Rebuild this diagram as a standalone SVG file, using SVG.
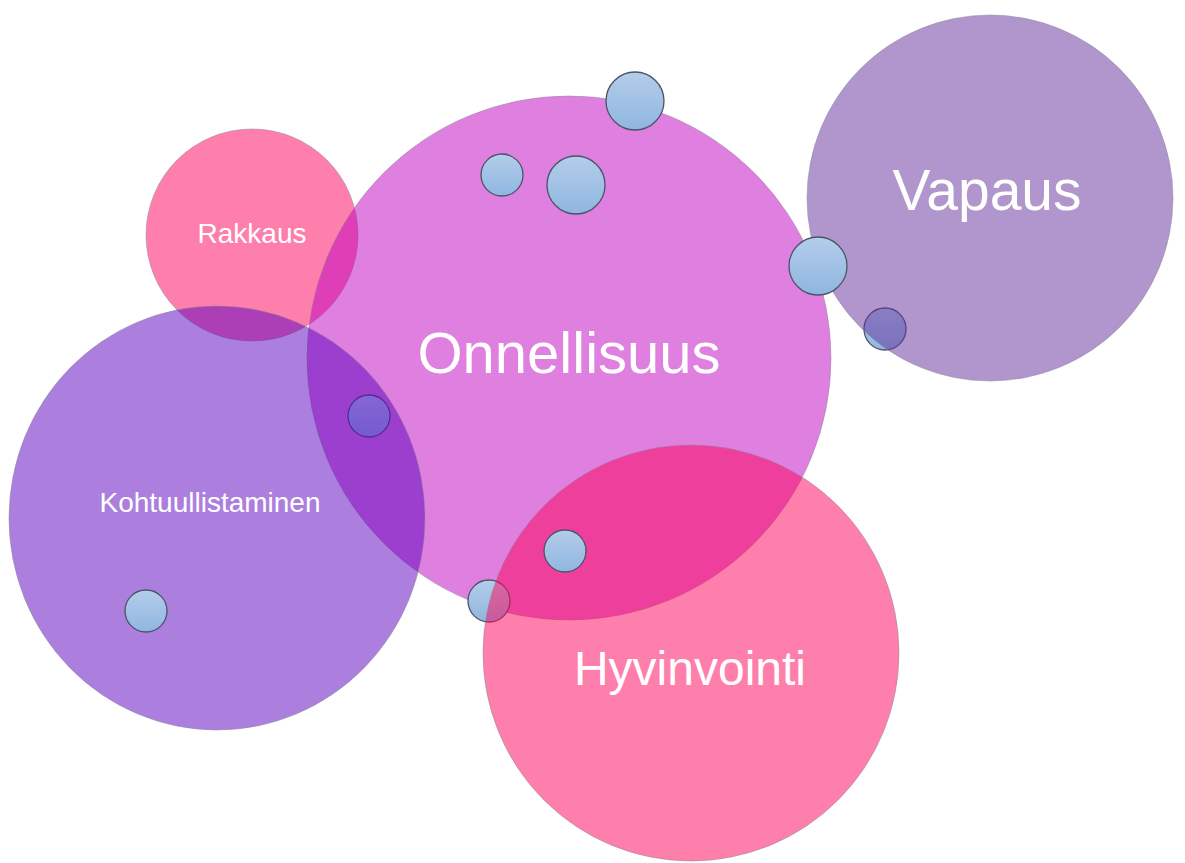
<svg xmlns="http://www.w3.org/2000/svg" width="1185" height="863" viewBox="0 0 1185 863">
<defs>
<linearGradient id="blue" x1="0" y1="0" x2="0" y2="1">
<stop offset="0" stop-color="#b4cdea"/>
<stop offset="1" stop-color="#8fb6e0"/>
</linearGradient>
<style>
.big{stroke:#8a8a9a;stroke-opacity:0.5;stroke-width:1}
.dot{fill:url(#blue);stroke:#4a5468;stroke-width:1.3}
.lbl{fill:#ffffff;font-family:"Liberation Sans",Arial,sans-serif;text-anchor:middle}
</style>
</defs>
<rect width="1185" height="863" fill="#ffffff"/>
<g id="rakkaus">
<circle class="big" cx="252" cy="235" r="106" fill="#ff005a" fill-opacity="0.5"/>
<text class="lbl" x="252" y="243" font-size="28">Rakkaus</text>
</g>
<g id="onnellisuus">
<circle class="big" cx="569" cy="358" r="262" fill="#c000c0" fill-opacity="0.5"/>
</g>
<g id="dot-top"><circle class="dot" cx="635" cy="101" r="29"/></g>
<g id="dot-onn1"><circle class="dot" cx="502" cy="175" r="21"/></g>
<g id="dot-onn2"><circle class="dot" cx="576" cy="185" r="29"/></g>
<g id="dot-low"><circle class="dot" cx="489" cy="601" r="21"/></g>
<g id="dot-left"><circle class="dot" cx="369" cy="416" r="21"/></g>
<g id="dot-vap"><circle class="dot" cx="885" cy="329" r="21"/></g>
<g id="onnellisuus-label">
<text class="lbl" x="569" y="373" font-size="58">Onnellisuus</text>
</g>
<g id="kohtuullistaminen">
<ellipse class="big" cx="217" cy="518" rx="208" ry="212" fill="#5a00c0" fill-opacity="0.5"/>
<text class="lbl" x="210" y="512" font-size="28">Kohtuullistaminen</text>
</g>
<g id="vapaus">
<circle class="big" cx="990" cy="198" r="183" fill="#612d99" fill-opacity="0.5"/>
<text class="lbl" x="987" y="210" font-size="57">Vapaus</text>
</g>
<g id="hyvinvointi">
<circle class="big" cx="691" cy="653" r="208" fill="#ff005a" fill-opacity="0.5"/>
<text class="lbl" x="690" y="685" font-size="48">Hyvinvointi</text>
</g>
<g id="dot-hyv"><circle class="dot" cx="565" cy="551" r="21"/></g>
<g id="dot-edge"><circle class="dot" cx="818" cy="266" r="29"/></g>
<g id="dot-koh"><circle class="dot" cx="146" cy="611" r="21"/></g>
<g id="connectors"></g>
</svg>
